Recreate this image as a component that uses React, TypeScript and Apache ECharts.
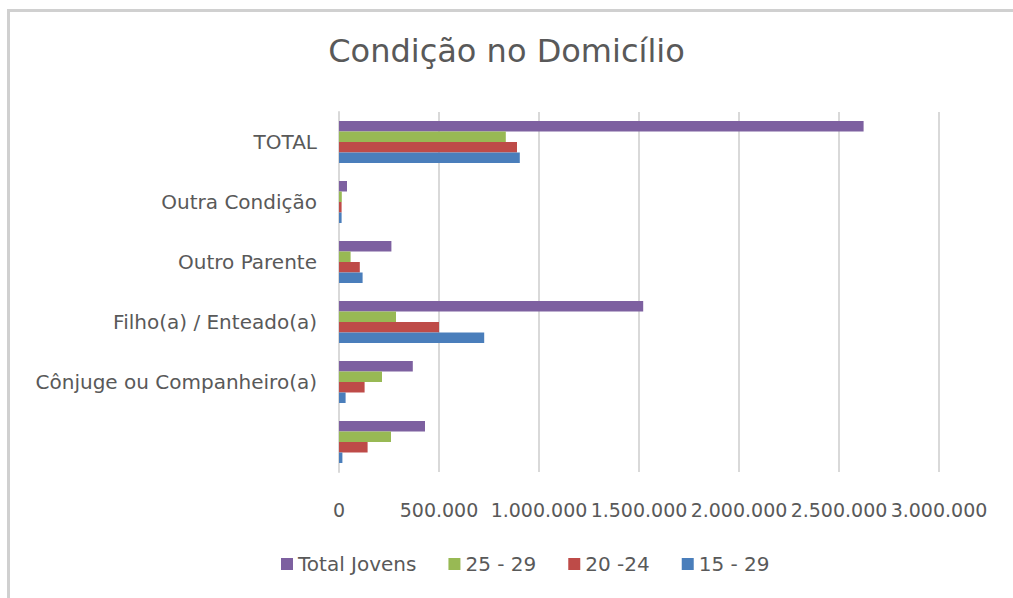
import React, { useEffect, useRef } from "react";
import * as echarts from "echarts";

const categories = ["", "Cônjuge ou Companheiro(a)", "Filho(a) / Enteado(a)", "Outro Parente", "Outra Condição", "TOTAL"];
const s1529 = [17000, 33000, 726000, 118000, 13000, 904000];
const s2024 = [143000, 128000, 500000, 104000, 13000, 890000];
const s2529 = [260000, 215000, 285000, 58000, 14000, 834000];
const sTotal = [430000, 369000, 1521000, 262000, 40000, 2623000];
const xTicks = { min: 0, max: 3000000, interval: 500000 };

const fmt = (v: number) => String(v).replace(/\B(?=(\d{3})+(?!\d))/g, ".");

export default function App() {
  const ref = useRef<HTMLDivElement>(null);
  useEffect(() => {
    const chart = echarts.init(ref.current!, null, { renderer: "svg" });
    const font = "'DejaVu Sans', sans-serif";
    chart.setOption({
      animation: false,
      backgroundColor: "#ffffff",
      textStyle: { fontFamily: font },
      title: {
        text: "Condição no Domicílio",
        left: "center",
        top: 30,
        textStyle: { fontSize: 32, fontWeight: "normal", color: "#595959", fontFamily: font },
      },
      graphic: [
        {
          type: "rect",
          shape: { x: 8.5, y: 10.5, width: 1030, height: 620 },
          style: { fill: "none", stroke: "#d0d0d0", lineWidth: 3 },
          silent: true,
        },
      ],
      legend: {
        bottom: 19,
        left: 276,
        itemWidth: 12,
        itemHeight: 12,
        itemGap: 32,
        icon: "rect",
        data: ["Total Jovens", "25 - 29", "20 -24", "15 - 29"],
        textStyle: { fontSize: 20, color: "#595959", fontFamily: font },
      },
      grid: { left: 339, right: 74, top: 112, bottom: 126, containLabel: false },
      xAxis: {
        type: "value",
        min: xTicks.min,
        max: xTicks.max,
        interval: xTicks.interval,
        axisLine: { show: false },
        axisTick: { show: false },
        splitLine: { lineStyle: { color: "#d9d9d9", width: 2 } },
        axisLabel: { formatter: (v: number) => fmt(v), fontSize: 19, color: "#595959", margin: 28 },
      },
      yAxis: {
        type: "category",
        data: categories,
        axisLine: { show: true, lineStyle: { color: "#d9d9d9", width: 2 } },
        axisTick: { show: false },
        axisLabel: { fontSize: 20, color: "#595959", margin: 22 },
      },
      series: [
        { name: "Total Jovens", type: "bar", data: sTotal, itemStyle: { color: "#7d60a0" }, barGap: "0%", barCategoryGap: "30%" },
        { name: "25 - 29", type: "bar", data: s2529, itemStyle: { color: "#98b954" } },
        { name: "20 -24", type: "bar", data: s2024, itemStyle: { color: "#be4b48" } },
        { name: "15 - 29", type: "bar", data: s1529, itemStyle: { color: "#4a7ebb" } },
      ],
    });
    return () => chart.dispose();
  }, []);
  return <div ref={ref} style={{ position: "fixed", left: 0, top: 0, width: 1013, height: 598 }} />;
}
